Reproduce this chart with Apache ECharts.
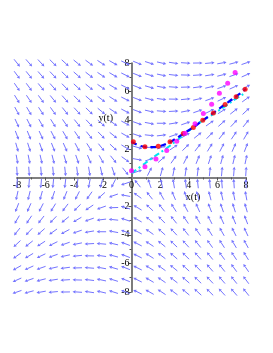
<!DOCTYPE html>
<html>
<head>
<meta charset="utf-8">
<script src="https://cdn.jsdelivr.net/npm/echarts@6/dist/echarts.min.js"></script>
<style>
html,body{margin:0;padding:0;background:#fff;}
#c{width:273px;height:353px;}
</style>
</head>
<body>
<div id="c"></div>
<script>
// ---- data ----
const xTicks = [-8, -6, -4, -2, 0, 2, 4, 6, 8];
const yTicks = [-8, -6, -4, -2, 2, 4, 6, 8];
// direction field grid (20 x 20) and system coefficients  x' = a1 x + b1 y ; y' = a2 x + b2 y
const gridX = [-8, -7.158, -6.316, -5.474, -4.632, -3.789, -2.947, -2.105, -1.263, -0.421, 0.421, 1.263, 2.105, 2.947, 3.789, 4.632, 5.474, 6.316, 7.158, 8];
const gridY = [-8, -7.158, -6.316, -5.474, -4.632, -3.789, -2.947, -2.105, -1.263, -0.421, 0.421, 1.263, 2.105, 2.947, 3.789, 4.632, 5.474, 6.316, 7.158, 8];
const xPrime = [0, 1];      // coefficients of x, y in x'
const yPrime = [0.8, -0.45]; // coefficients of x, y in y'
// solution curve (blue dashed)
const blueX = [0, 0.5, 1, 1.5, 2, 2.5, 3, 3.5, 4, 4.5, 5, 5.5, 6, 6.5, 7, 7.5, 8];
const blueY = [2.5, 2.25, 2.14, 2.12, 2.2, 2.38, 2.65, 2.97, 3.3, 3.63, 4.0, 4.35, 4.72, 5.08, 5.45, 5.8, 6.2];
// numeric points (red dots)
const redX = [0.13, 0.94, 1.87, 2.69, 3.62, 4.32, 4.98, 5.72, 6.54, 7.31, 7.94];
const redY = [2.49, 2.14, 2.19, 2.49, 3.08, 3.5, 4.0, 4.5, 5.1, 5.64, 6.16];
// cyan dash-dot curve
const cyanX = [0, 0.7, 1.5, 2.46, 3.5, 4.56, 5.5, 6.5, 7.3, 8];
const cyanY = [0.3, 0.8, 1.4, 2.05, 2.85, 3.7, 4.3, 4.95, 5.5, 5.95];
// magenta dots
const magX = [0, 0.94, 1.71, 2.46, 3.16, 3.74, 4.44, 5.02, 5.6, 6.14, 6.72, 7.24, 7.7];
const magY = [0.47, 0.75, 1.29, 1.88, 2.53, 3.1, 3.76, 4.47, 5.12, 5.88, 6.58, 7.33, 8.04];

const zip = (a, b) => a.map((v, i) => [v, b[i]]);
const fieldData = [];
gridX.forEach(x => gridY.forEach(y => {
  fieldData.push([x, y, xPrime[0] * x + xPrime[1] * y, yPrime[0] * x + yPrime[1] * y]);
}));

const ARROW = '#7474ff';
const chart = echarts.init(document.getElementById('c'), null, {renderer: 'canvas'});
const serif = 'Liberation Serif, DejaVu Serif, serif';
const PLOT = 229;

chart.setOption({
  animation: false,
  backgroundColor: '#fff',
  grid: {left: 17, right: 27, top: 63, bottom: 61, containLabel: false},
  xAxis: {
    type: 'value', min: -8, max: 8, interval: 2, position: 'bottom', offset: -PLOT / 2,
    axisLine: {onZero: false, lineStyle: {color: '#808080', width: 2}},
    axisTick: {length: 3, lineStyle: {color: '#555'}},
    minorTick: {show: true, splitNumber: 2, length: 2, lineStyle: {color: '#555'}},
    splitLine: {show: false},
    axisLabel: {margin: 3, color: '#000', fontFamily: serif, fontSize: 10,
      formatter: v => xTicks.includes(v) ? String(v) : ''}
  },
  yAxis: {
    type: 'value', min: -8, max: 8, interval: 2, position: 'left', offset: -PLOT / 2,
    axisLine: {onZero: false, lineStyle: {color: '#505050', width: 1.5}},
    axisTick: {length: 3, lineStyle: {color: '#555'}},
    minorTick: {show: true, splitNumber: 2, length: 2, lineStyle: {color: '#555'}},
    splitLine: {show: false},
    axisLabel: {margin: 2, color: '#000', fontFamily: serif, fontSize: 10,
      formatter: v => yTicks.includes(v) ? String(v) : ''}
  },
  series: [
    {
      type: 'custom', silent: true, data: fieldData, z: 1,
      renderItem: (params, api) => {
        const x = api.value(0), y = api.value(1), u = api.value(2), v = api.value(3);
        const p = api.coord([x, y]);
        const q = api.coord([x + u * 0.001, y + v * 0.001]);
        let dx = q[0] - p[0], dy = q[1] - p[1];
        const L = Math.hypot(dx, dy) || 1;
        dx /= L; dy /= L;
        const len = 9.5;
        const sx = p[0] - dx * len / 2, sy = p[1] - dy * len / 2;
        const ex = p[0] + dx * len / 2, ey = p[1] + dy * len / 2;
        const hl = 3, hw = 1.6;
        const bx = ex - dx * hl, by = ey - dy * hl;
        return {
          type: 'group',
          children: [
            {type: 'line', shape: {x1: sx, y1: sy, x2: bx, y2: by}, style: {stroke: ARROW, lineWidth: 1}},
            {type: 'polygon', shape: {points: [[ex, ey], [bx - dy * hw, by + dx * hw], [bx + dy * hw, by - dx * hw]]},
              style: {fill: ARROW}}
          ]
        };
      }
    },
    {
      type: 'line', data: zip(cyanX, cyanY), smooth: true, symbol: 'none', z: 3,
      lineStyle: {color: '#00e8f0', width: 2, type: [6, 3, 2, 3]}
    },
    {
      type: 'line', data: zip(blueX, blueY), smooth: true, symbol: 'none', z: 4,
      lineStyle: {color: '#0000ff', width: 2.2, type: [6, 4]}
    },
    {
      type: 'scatter', data: zip(redX, redY), symbolSize: 5, z: 5,
      itemStyle: {color: '#ff0000'}
    },
    {
      type: 'scatter', data: zip(magX, magY), symbolSize: 5, z: 6,
      itemStyle: {color: '#ff00ff'}
    }
  ]
});

// axis names
const xName = chart.convertToPixel({gridIndex: 0}, [4.3, -1.4]);
const yName = chart.convertToPixel({gridIndex: 0}, [-1.8, 4.1]);
chart.setOption({
  graphic: [
    {type: 'text', x: xName[0], y: xName[1], style: {text: 'x(t)', font: '10px ' + serif, fill: '#000', align: 'center', verticalAlign: 'middle'}},
    {type: 'text', x: yName[0], y: yName[1], style: {text: 'y(t)', font: '10px ' + serif, fill: '#000', align: 'center', verticalAlign: 'middle'}}
  ]
});
</script>
</body>
</html>
